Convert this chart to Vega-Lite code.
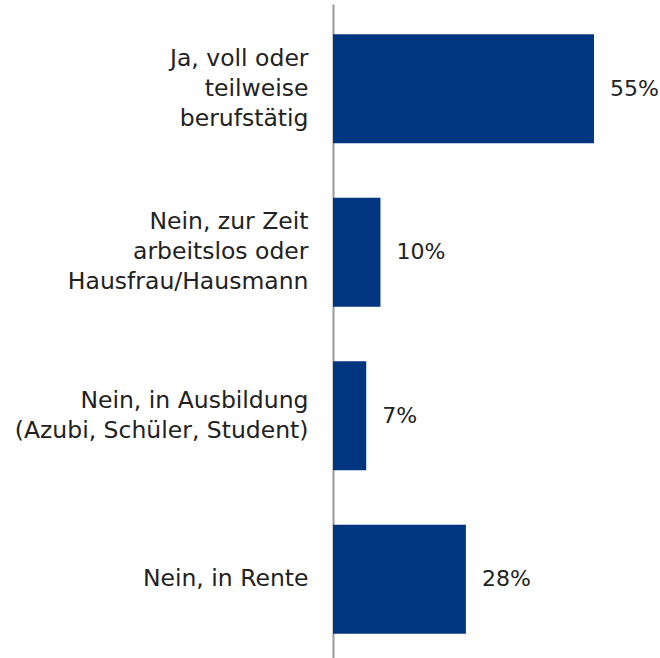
{
  "$schema": "https://vega.github.io/schema/vega-lite/v6.json",
  "autosize": "none",
  "width": 327,
  "height": 660,
  "padding": {"left": 333, "top": 4, "right": 0, "bottom": 0},
  "background": "white",
  "config": {"view": {"stroke": null}, "font": "DejaVu Sans"},
  "data": {
    "values": [
      {"order": 1, "category": "Ja, voll oder|teilweise|berufstätig", "value": 0.55},
      {"order": 2, "category": "Nein, zur Zeit|arbeitslos oder|Hausfrau/Hausmann", "value": 0.10},
      {"order": 3, "category": "Nein, in Ausbildung|(Azubi, Schüler, Student)", "value": 0.07},
      {"order": 4, "category": "Nein, in Rente", "value": 0.28}
    ]
  },
  "encoding": {
    "y": {
      "field": "category",
      "type": "nominal",
      "sort": {"field": "order"},
      "scale": {"paddingInner": 0.333, "paddingOuter": 0.185},
      "axis": {
        "title": null,
        "ticks": false,
        "labelExpr": "split(datum.label, '|')",
        "labelFontSize": 23.5,
        "labelColor": "#222222",
        "labelPadding": 25,
        "labelLineHeight": 30,
        "labelLimit": 400,
        "labelOffset": {
          "condition": [
            {"test": "length(split(datum.label, '|')) == 3", "value": -30},
            {"test": "length(split(datum.label, '|')) == 2", "value": -15}
          ],
          "value": 0
        },
        "domainColor": "#999999",
        "domainWidth": 2,
        "grid": false
      }
    },
    "x": {
      "field": "value",
      "type": "quantitative",
      "scale": {"domain": [0, 0.689]},
      "axis": null
    }
  },
  "layer": [
    {"mark": {"type": "bar", "color": "#00357F"}},
    {
      "mark": {"type": "text", "align": "left", "dx": 16, "fontSize": 22, "color": "#222222"},
      "encoding": {"text": {"field": "value", "type": "quantitative", "format": ".0%"}}
    }
  ]
}
